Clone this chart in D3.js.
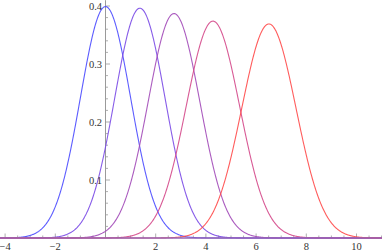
<!DOCTYPE html>
<html><head><meta charset="utf-8">
<script src="https://cdn.jsdelivr.net/npm/d3@7"></script>
<style>body{margin:0;background:#fff;}svg{display:block;}</style>
</head><body><svg id="c" width="382" height="251"></svg>
<script>
// Curve parameters (normal density curves)
const curveMeans  = [0, 1.37, 2.73, 4.28, 6.51];
const curveSigmas = [1.0, 1.007, 1.031, 1.067, 1.081];
const curveColors = ["#4a4aff", "#7a4ae6", "#a24ab8", "#d4488a", "#ff4a4a"];
const xTickLabels = [-4, -2, 2, 4, 6, 8, 10];
const yTickLabels = [0.1, 0.2, 0.3, 0.4];

const W = 382, H = 251;
const svg = d3.select("#c");
const x = d3.scaleLinear().domain([-4, 10]).range([5.1, 356.5]);
const y = d3.scaleLinear().domain([0, 0.4]).range([238, 6]);
const xMin = x.invert(0), xMax = x.invert(W);
const serif = "'Liberation Serif', 'Times New Roman', Times, serif";

const axisCol = "#9a9a9a";
// y axis
svg.append("line").attr("x1", x(0)).attr("x2", x(0)).attr("y1", y(0)).attr("y2", y(0.41))
  .attr("stroke", axisCol).attr("stroke-width", 1);

// x ticks
const xMinor = d3.range(Math.ceil(xMin * 2) / 2, xMax, 0.5);
svg.append("g").selectAll("line").data(xMinor).join("line")
  .attr("x1", d => x(d)).attr("x2", d => x(d))
  .attr("y1", y(0)).attr("y2", d => y(0) - (Math.abs(d % 2) < 1e-9 ? 4.5 : 2.5))
  .attr("stroke", axisCol).attr("stroke-width", 0.8);
// y ticks
const yMinor = d3.range(0.02, 0.401, 0.02);
svg.append("g").selectAll("line").data(yMinor).join("line")
  .attr("x1", x(0)).attr("x2", d => x(0) + (Math.abs(Math.round(d * 100) % 10) === 0 ? 4.5 : 2.5))
  .attr("y1", d => y(d)).attr("y2", d => y(d))
  .attr("stroke", axisCol).attr("stroke-width", 0.8);

// curves
const xs = d3.range(xMin, xMax + 0.02, 0.02);
const line = d3.line().x(d => x(d[0])).y(d => y(d[1]));
curveMeans.forEach((m, i) => {
  const s = curveSigmas[i];
  const pts = xs.map(v => [v, Math.exp(-0.5 * ((v - m) / s) ** 2) / (s * Math.sqrt(2 * Math.PI))]);
  svg.append("path").attr("d", line(pts)).attr("fill", "none")
    .attr("stroke", curveColors[i]).attr("stroke-width", 1.1).attr("stroke-opacity", 0.9);
});

// x axis baseline (curve tails overlap here, giving a purple tone)
svg.append("line").attr("x1", 0).attr("x2", W).attr("y1", y(0)).attr("y2", y(0))
  .attr("stroke", "#9464b4").attr("stroke-width", 1.3);

// labels
const fmt = v => (v < 0 ? "\u2212" + Math.abs(v) : String(v));
svg.append("g").selectAll("text").data(xTickLabels).join("text")
  .attr("x", d => x(d)).attr("y", 249.5).attr("text-anchor", "middle")
  .style("font-family", serif).attr("font-size", 10.5)
  .attr("fill", "#333").text(fmt);
svg.append("g").selectAll("text").data(yTickLabels).join("text")
  .attr("x", x(0) - 3.5).attr("y", d => y(d) + 3.5).attr("text-anchor", "end")
  .style("font-family", serif).attr("font-size", 10.5)
  .attr("fill", "#333").text(d => d.toFixed(1));
</script></body></html>
